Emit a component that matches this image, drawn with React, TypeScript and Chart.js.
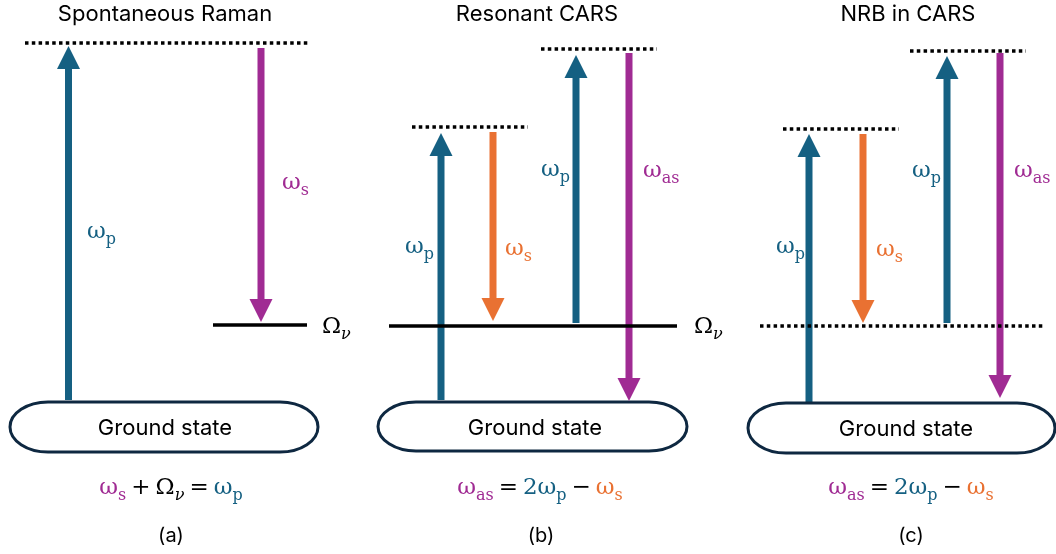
import React, { useEffect, useRef } from "react";
import { Chart, registerables } from "chart.js";

Chart.register(...registerables);

const W = 1056;
const H = 554;

// ---- colours by beam ----
const BEAM_COLOR: Record<string, string> = {
  p: "#156082",
  s: "#A02B93",
  st: "#E97132",
  as: "#A02B93",
};
const INK = "#000000";
const NAVY = "#0E2841";

// ---- panel texts ----
const panelTitles = ["Spontaneous Raman", "Resonant CARS", "NRB in CARS"];
const titleX = [165, 537, 908];
const panelTags = ["(a)", "(b)", "(c)"];
const tagX = [171, 541, 911];
const equationX = [171, 540, 911];

// ---- ground state (pill) ----
const groundLabel = "Ground state";
const groundLabelX = [165, 535, 906];
const groundX0 = [10, 378, 748];
const groundX1 = [318, 687, 1055];
const groundTop = [402, 402, 403];
const groundBottom = [452, 451, 453];

// ---- virtual (dotted) levels ----
const dottedX0 = [25, 412, 541, 783, 910, 760];
const dottedX1 = [308, 528, 657, 899, 1026, 1044];
const dottedY = [43, 127, 49, 129, 51, 326];

// ---- vibrational (solid) levels ----
const solidX0 = [213, 389];
const solidX1 = [307, 677];
const solidY = [325, 326];
const omegaNuX = [322, 694];
const omegaNuY = [333, 333];

// ---- arrows (transitions) ----
const arrowX = [68.5, 261, 441, 493, 576, 629, 809, 863, 947, 1000];
const arrowFrom = [400, 48, 400, 132, 323, 53, 402, 134, 323, 53];
const arrowTo = [46, 322, 133, 321, 55, 401, 134, 323, 56, 398];
const arrowBeam = ["p", "s", "p", "st", "p", "as", "p", "st", "p", "as"];

// ---- arrow labels ----
const labelX = [87, 282, 405, 505, 541, 643, 776, 876, 912, 1014];
const labelY = [238, 189, 253, 255, 176, 177, 253, 256, 177, 177];
const labelSub = ["p", "s", "p", "s", "p", "as", "p", "s", "p", "as"];

const HEAD_LEN = 23;
const HEAD_HALF = 11.5;

const SANS = '"Inter", "Open Sans", sans-serif';
const MATH = '"DejaVu Serif", serif';
const MATH_SIZE = 23;
const SUB_SIZE = 16;
const SUB_DROP = 6;
const GAP = 5;

type Run = [string, string, string]; // text, colour, kind: m main, s sub, i italic sub, g gap

function runFont(kind: string) {
  if (kind === "s") return `${SUB_SIZE}px ${MATH}`;
  if (kind === "i") return `italic ${SUB_SIZE}px ${MATH}`;
  return `${MATH_SIZE}px ${MATH}`;
}

function runsWidth(ctx: CanvasRenderingContext2D, runs: Run[]) {
  let w = 0;
  for (const r of runs) {
    if (r[2] === "g") {
      w += GAP;
      continue;
    }
    ctx.font = runFont(r[2]);
    w += ctx.measureText(r[0]).width;
  }
  return w;
}

function drawRuns(
  ctx: CanvasRenderingContext2D,
  runs: Run[],
  x: number,
  y: number,
  center: boolean
) {
  let cx = center ? x - runsWidth(ctx, runs) / 2 : x;
  ctx.textAlign = "left";
  ctx.textBaseline = "alphabetic";
  for (const r of runs) {
    if (r[2] === "g") {
      cx += GAP;
      continue;
    }
    ctx.font = runFont(r[2]);
    ctx.fillStyle = r[1];
    const sub = r[2] === "s" || r[2] === "i";
    ctx.fillText(r[0], cx, y + (sub ? SUB_DROP : 0));
    cx += ctx.measureText(r[0]).width;
  }
}

const G: Run = ["", "", "g"];
const eqRaman: Run[] = [
  ["ω", BEAM_COLOR.s, "m"],
  ["s", BEAM_COLOR.s, "s"],
  G,
  ["+", INK, "m"],
  G,
  ["Ω", INK, "m"],
  ["ν", INK, "i"],
  G,
  ["=", INK, "m"],
  G,
  ["ω", BEAM_COLOR.p, "m"],
  ["p", BEAM_COLOR.p, "s"],
];
const eqCars: Run[] = [
  ["ω", BEAM_COLOR.as, "m"],
  ["as", BEAM_COLOR.as, "s"],
  G,
  ["=", INK, "m"],
  G,
  ["2ω", BEAM_COLOR.p, "m"],
  ["p", BEAM_COLOR.p, "s"],
  G,
  ["−", INK, "m"],
  G,
  ["ω", BEAM_COLOR.st, "m"],
  ["s", BEAM_COLOR.st, "s"],
];
const equations = [eqRaman, eqCars, eqCars];

const diagramPlugin = {
  id: "diagram",
  afterDatasetsDraw(chart: any) {
    const ctx: CanvasRenderingContext2D = chart.ctx;
    const xs = chart.scales.x;
    const ys = chart.scales.y;
    const px = (v: number) => xs.getPixelForValue(v);
    const py = (v: number) => ys.getPixelForValue(v);
    ctx.save();

    // ground-state pills
    for (let i = 0; i < groundX0.length; i++) {
      const x0 = px(groundX0[i]);
      const x1 = px(groundX1[i]);
      const y0 = py(groundTop[i]);
      const y1 = py(groundBottom[i]);
      const ry = (y1 - y0) / 2;
      const rx = 38;
      const yc = (y0 + y1) / 2;
      ctx.beginPath();
      ctx.moveTo(x0 + rx, y0);
      ctx.lineTo(x1 - rx, y0);
      ctx.ellipse(x1 - rx, yc, rx, ry, 0, -Math.PI / 2, Math.PI / 2);
      ctx.lineTo(x0 + rx, y1);
      ctx.ellipse(x0 + rx, yc, rx, ry, 0, Math.PI / 2, (3 * Math.PI) / 2);
      ctx.closePath();
      ctx.fillStyle = "#ffffff";
      ctx.fill();
      ctx.lineWidth = 3;
      ctx.strokeStyle = NAVY;
      ctx.stroke();
      ctx.font = `22px ${SANS}`;
      ctx.fillStyle = "#000";
      ctx.textAlign = "center";
      ctx.textBaseline = "alphabetic";
      ctx.fillText(groundLabel, px(groundLabelX[i]), yc + 8);
    }

    // arrow heads
    for (let i = 0; i < arrowX.length; i++) {
      const dir = Math.sign(arrowFrom[i] - arrowTo[i]);
      const tx = px(arrowX[i]);
      const ty = py(arrowTo[i]);
      const by = py(arrowTo[i] + dir * HEAD_LEN);
      ctx.beginPath();
      ctx.moveTo(tx, ty);
      ctx.lineTo(tx - HEAD_HALF, by);
      ctx.lineTo(tx + HEAD_HALF, by);
      ctx.closePath();
      ctx.fillStyle = BEAM_COLOR[arrowBeam[i]];
      ctx.fill();
    }

    // titles & tags
    ctx.fillStyle = "#000";
    ctx.textAlign = "center";
    ctx.textBaseline = "alphabetic";
    for (let i = 0; i < panelTitles.length; i++) {
      ctx.font = `22px ${SANS}`;
      ctx.fillText(panelTitles[i], px(titleX[i]), py(21));
      ctx.font = `20px ${SANS}`;
      ctx.fillText(panelTags[i], px(tagX[i]), py(542));
    }

    // arrow labels
    for (let i = 0; i < labelX.length; i++) {
      const c = BEAM_COLOR[arrowBeam[i]];
      drawRuns(
        ctx,
        [
          ["ω", c, "m"],
          [labelSub[i], c, "s"],
        ],
        px(labelX[i]),
        py(labelY[i]),
        false
      );
    }

    // Ω_ν labels
    for (let i = 0; i < omegaNuX.length; i++) {
      drawRuns(
        ctx,
        [
          ["Ω", INK, "m"],
          ["ν", INK, "i"],
        ],
        px(omegaNuX[i]),
        py(omegaNuY[i]),
        false
      );
    }

    // equations
    for (let i = 0; i < equations.length; i++) {
      drawRuns(ctx, equations[i], px(equationX[i]), py(494), true);
    }

    ctx.restore();
  },
};

export default function App() {
  const ref = useRef<HTMLCanvasElement | null>(null);

  useEffect(() => {
    if (!ref.current) return;

    const levelSets = [
      ...dottedY.map((yv, i) => ({
        data: [
          { x: dottedX0[i], y: yv },
          { x: dottedX1[i], y: yv },
        ],
        borderColor: INK,
        borderWidth: 3.5,
        borderDash: [3.5, 3.3],
        borderCapStyle: "butt",
        showLine: true,
        pointRadius: 0,
      })),
      ...solidY.map((yv, i) => ({
        data: [
          { x: solidX0[i], y: yv },
          { x: solidX1[i], y: yv },
        ],
        borderColor: INK,
        borderWidth: 3.5,
        showLine: true,
        pointRadius: 0,
      })),
    ];

    const arrowSets = arrowX.map((xv, i) => {
      const dir = Math.sign(arrowFrom[i] - arrowTo[i]);
      return {
        data: [
          { x: xv, y: arrowFrom[i] },
          { x: xv, y: arrowTo[i] + dir * (HEAD_LEN - 1) },
        ],
        borderColor: BEAM_COLOR[arrowBeam[i]],
        borderWidth: 7,
        borderCapStyle: "butt",
        showLine: true,
        pointRadius: 0,
      };
    });

    const chart = new Chart(ref.current, {
      type: "scatter",
      data: { datasets: [...levelSets, ...arrowSets] as any },
      options: {
        animation: false,
        responsive: false,
        devicePixelRatio: 1,
        layout: { padding: 0 },
        events: [],
        scales: {
          x: { type: "linear", min: 0, max: W, display: false },
          y: { type: "linear", min: 0, max: H, reverse: true, display: false },
        },
        plugins: {
          legend: { display: false },
          tooltip: { enabled: false },
        },
      } as any,
      plugins: [diagramPlugin as any],
    });

    return () => chart.destroy();
  }, []);

  return (
    <div
      style={{
        position: "fixed",
        left: 0,
        top: 0,
        width: W,
        height: H,
        background: "#ffffff",
      }}
    >
      <canvas ref={ref} width={W} height={H} style={{ display: "block" }} />
    </div>
  );
}
